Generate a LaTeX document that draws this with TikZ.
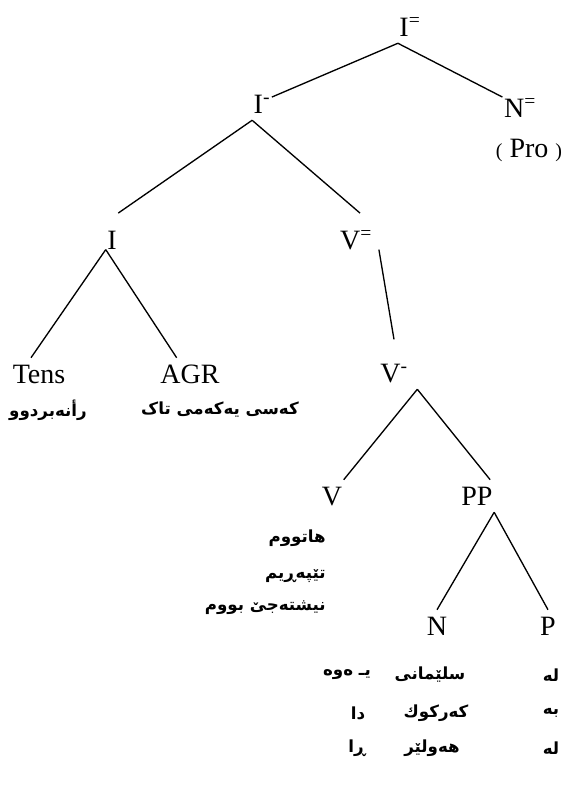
\documentclass[tikz,border=0pt]{standalone}
\usepackage{fontspec}
\setmainfont{Liberation Serif}
\newfontfamily\kurdfont[Script=Arabic]{DejaVu Sans}
\TeXXeTstate=1
\usetikzlibrary{positioning}
\newcommand{\bareq}{\textsuperscript{=}} % double bar level
\newcommand{\barsg}{\textsuperscript{-}} % single bar level
\tikzset{x=0.75pt, y=-0.75pt, % one unit is one pixel of the page
        cat/.style={ % Sets the properties for each category label
            font=\fontsize{21}{24}\selectfont,
            inner xsep=1pt, inner ysep=5pt,
            text height=14pt, text depth=0pt},
        kurdish/.style={ % Sets the properties for the Kurdish words
            font=\fontsize{12.5}{15}\selectfont\kurdfont\bfseries,
            inner sep=0pt},
        branch/.style={ % Sets the properties for each branch
            draw, line width=1pt}
        }
\begin{document}
\begin{tikzpicture}
    \useasboundingbox (0,0) rectangle (572,790);

    \node[cat] (Itop) at (410,27)  {I\bareq};
    \node[cat] (Ibar) at (262,104) {I\barsg};
    \node[cat] (Neq)  at (520,108) {N\bareq};
    \node[cat] (pro)  at (529,148) {{\fontsize{15}{16}\selectfont(} Pro {\fontsize{15}{16}\selectfont)}};
    \node[cat] (I)    at (112,240) {I};
    \node[cat] (Veq)  at (356,240) {V\bareq};
    \node[cat] (Tens) at (39,374)  {Tens};
    \node[cat] (AGR)  at (190,374) {AGR};
    \node[cat] (Vbar) at (394,373) {V\barsg};
    \node[cat] (V)    at (332,496) {V};
    \node[cat] (PP)   at (477,496) {PP};
    \node[cat] (N)    at (437,626) {N};
    \node[cat] (P)    at (548,626) {P};

    % Kurdish glosses
    \node[kurdish] (tense)  at (48,410)  {\beginR رأنەبردوو\endR};
    \node[kurdish] (person) at (220,410) {\beginR کەسی یەکەمی تاک\endR};
    \node[kurdish, anchor=east] (v1) at (326,538) {\beginR هاتووم\endR};
    \node[kurdish, anchor=east] (v2) at (326,576) {\beginR تێپەڕیم\endR};
    \node[kurdish, anchor=east] (v3) at (326,608) {\beginR نیشتەجێ بووم\endR};

    \node[kurdish] (p1) at (551,675) {\beginR لە\endR};
    \node[kurdish] (n1) at (430,675) {\beginR سلێمانی\endR};
    \node[kurdish] (s1) at (347,675) {\beginR یـ ەوە\endR};
    \node[kurdish] (p2) at (551,713) {\beginR بە\endR};
    \node[kurdish] (n2) at (436,713) {\beginR کەرکوك\endR};
    \node[kurdish] (s2) at (358,713) {\beginR دا\endR};
    \node[kurdish] (p3) at (551,748) {\beginR لە\endR};
    \node[kurdish] (n3) at (432,748) {\beginR هەولێر\endR};
    \node[kurdish] (s3) at (357,748) {\beginR ڕا\endR};

    \draw[branch]
        (Itop.south west) -- ([yshift=-7pt]Ibar.north east)
        (Itop.south west) -- ([yshift=-4pt]Neq.north west)
        (Ibar.south west) -- ([yshift=8pt]I.north east)
        (Ibar.south west) -- ([yshift=8pt,xshift=3pt]Veq.north)
        ([yshift=5pt]I.south west) -- ([xshift=-6pt]Tens.north)
        ([yshift=5pt]I.south west) -- ([xshift=-10pt]AGR.north)
        ([xshift=4pt,yshift=5pt]Veq.south east) -- ([yshift=13pt]Vbar.north)
        ([xshift=6pt]Vbar.south east) -- (V.north east)
        ([xshift=6pt]Vbar.south east) -- ([xshift=-3pt]PP.north east)
        (PP.south east) -- (N.north)
        (PP.south east) -- (P.north);
\end{tikzpicture}
\end{document}
